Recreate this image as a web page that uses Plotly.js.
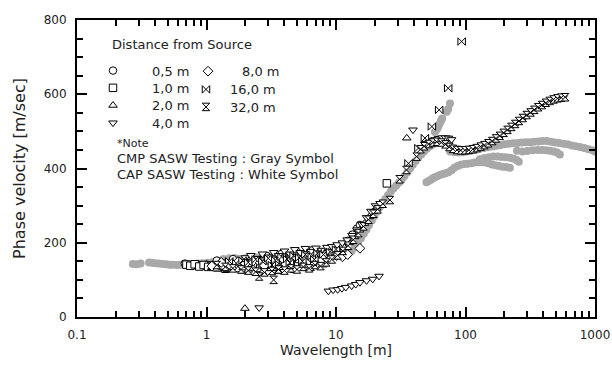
<!DOCTYPE html>
<html>
<head>
<meta charset="utf-8">
<script src="https://cdn.plot.ly/plotly-3.0.1.min.js"></script>
<style>html,body{margin:0;padding:0;background:#fff;}#chart{width:612px;height:365px;}</style>
</head>
<body>
<div id="chart"></div>
<script>
// ---------- CMP SASW (gray symbols) ----------
const grayMainLam = [0.27,0.29,0.31,0.36,0.38,0.40,0.43,0.46,0.49,0.52,0.55,0.59,0.63,0.67,0.72,0.78,0.85,0.93,1.02,1.12,1.22,1.35,1.5,1.65,1.8,2.0,2.2,2.45,2.7,3.0,3.3,3.7,4.1,4.6,5.1,5.7,6.3,7.0,7.8,8.6,9.5,10.4,11.3,12.3,13.2,14.0,14.8,15.6,16.4,17.2,18.0,18.9,19.8,20.8,21.8,22.9,24.0,25.2,26.5,27.8,29.2,30.7,32.2,33.8,35.5,37.3,39.2,41.2,43.3,45.5,47.8,50.2,52.7,55.4,58.2,61.2,64.3,67.6,71,74.6];
const grayMainVel = [143,142,144,147,146,145,144,143,142,141,141,140,141,142,141,142,144,145,146,148,152,156,158,159,157,158,160,160,162,163,163,165,166,166,168,168,169,170,170,169,168,167,166,170,178,188,200,212,224,236,248,260,272,284,296,308,318,328,338,346,354,362,370,380,390,400,410,420,430,438,446,453,459,464,468,471,473,474,474,470];
const grayBlobLam = [58,60,61.5,63,64.5,66,71.6,73.5,75.9];
const grayBlobVel = [498,505,512,520,528,535,553,560,575];
const grayHighLam = [76,82,88,95,102,110,119,129,139,150,162,174,187,201,217,234,252,271,292,315,339,365,393,424,456,491,529,570,614,661,712,766,825,889,957,1000];
const grayHighVel = [446,444,443,444,446,448,450,453,455,457,459,461,463,465,467,468,469,470,471,471,472,473,474,474,472,470,469,467,465,462,460,458,455,452,449,446];
const grayLobeLam = [250,275,300,330,360,390,420,450,480,510,535];
const grayLobeVel = [448,446,447,449,450,450,449,448,446,443,438];
const grayMidLam = [129,140,152,164,177,190,205,220,234,248,258];
const grayMidVel = [425,428,430,432,432,431,430,429,427,423,418];
const grayLowLam = [50,52,54,56,58.5,61,64,67,70,74,78,82,87,92,98,104,111,118,126,134,142,150,160,170,181,193,206,220];
const grayLowVel = [363,366,370,374,377,380,383,385,387,390,395,402,407,410,412,413,414,416,417,417,416,414,411,409,407,405,404,402];

// ---------- CAP SASW (white symbols) ----------
const d05Lam = [0.68,0.73,0.79,0.85,0.92,1.0,1.08,1.17,1.27,1.38,1.5,1.63,1.77,1.92,2.1,2.3,2.5,2.75,3.0,3.3,3.6,4.0,4.4,4.8,5.3,5.8,6.4,7.0,7.7,8.5,9.3,10.2,11.2,12.3,13.4,14.5,15.3,1.2,1.6,2.2,2.9,3.8,5.0,6.6,8.8];
const d05Vel = [144,141,139,142,138,141,137,143,139,145,141,147,143,150,146,152,148,155,151,158,154,161,157,164,160,167,163,170,166,172,176,182,192,205,222,238,248,152,156,160,165,170,175,180,183];
const d10Lam = [0.7,0.75,0.81,0.88,0.95,1.03,1.12,1.22,1.33,1.45,1.58,1.72,1.88,2.05,2.25,2.45,2.7,2.95,3.25,3.55,3.9,4.3,4.7,5.2,5.7,6.3,6.9,7.6,8.4,9.2,10.1,11,24.7,1.4,1.9,2.6,3.4,4.5,6.0,8.0];
const d10Vel = [141,138,142,136,140,135,139,134,140,136,142,138,144,140,146,142,149,145,152,148,155,151,158,154,162,158,165,162,168,172,178,186,360,130,128,132,136,140,146,152];
const d20Lam = [1.98,1.1,1.2,1.32,1.45,1.6,1.75,1.92,2.1,2.3,2.55,2.8,3.1,3.4,3.75,4.1,4.5,5.0,5.5,6.0,6.6,7.3,8.0,8.8,9.7,10.6,11.6,12.7,13.9,15.2,16.6,18.1,19.5,20.6,35.2,2.7,3.6,4.8,6.3,7.9];
const d20Vel = [23,133,129,134,128,133,127,132,126,131,127,134,130,137,133,140,136,143,139,147,143,151,155,160,166,175,187,200,216,234,252,270,285,293,482,120,122,125,130,140];
const d40Lam = [2.55,8.73,9.5,10.3,11.1,11.9,13.2,14.2,15.3,17.2,19.2,21.5,2.0,2.2,2.45,2.7,3.0,3.3,3.6,4.0,4.4,4.8,5.3,5.8,6.4,7.0,7.7,8.5,9.3,10.2,11.2,12.2,13.3,14.5,15.8,17.2,18.6,20.2,21.9,39.3,50,54,58,62,66,70,74,78,84,96,110,126,145,167,191,219,251,287,329,377,432,496,568];
const d40Vel = [25,70,73,74,77,80,84,88,93,98,102,110,160,166,158,170,162,174,166,178,170,182,174,185,177,186,180,188,190,195,200,208,220,235,250,268,285,300,306,504,468,474,478,481,483,483,482,478,452,448,451,456,465,477,491,507,523,539,554,568,579,587,591];
const d80Lam = [15.3,1.3,1.5,1.75,2.0,2.3,2.6,3.0,3.4,3.9,4.4,5.0,5.6,6.3,7.1,8.0,9.0,10.1,11.2,12.3,1.1,2.8,4.1,5.9,7.5];
const d80Vel = [185,147,142,149,144,151,146,153,148,156,150,158,152,160,155,162,158,165,162,168,137,138,142,146,150];
const d160Lam = [93.4,73.5,62.6,55,48.6,43.3,36.3,1.5,1.7,1.9,2.1,2.4,2.7,3.0,3.4,3.8,4.2,4.7,5.2,5.8,6.5,7.2,8.0,9.0,10.0,3.2,4.4,5.5,6.8];
const d160Vel = [742,616,558,513,482,455,414,150,145,152,147,155,150,158,153,162,156,165,160,168,163,172,168,176,182,140,146,150,155];
const d320Lam = [1.2,1.4,1.6,1.85,2.1,2.55,3.3,2.4,2.8,3.2,3.6,4.0,4.5,5.0,5.6,6.2,6.9,7.6,8.4,9.3,10.3,11.3,12.4,13.6,14.9,16.3,17.8,19.4,21.0,23.0,26.1,31,35,42,45,48,52,56,60,65,70,75,80,86,92,99,106,114,122,131,140,150,161,172,184,197,211,226,242,259,277,297,318,340,364,390,418,447,479,513,549,588];
const d320Vel = [140,135,131,128,125,109,100,122,120,124,128,125,131,128,135,131,140,137,147,155,166,178,192,208,226,244,262,278,290,305,315,371,396,432,452,460,466,470,472,470,465,458,453,450,449,449,450,452,455,459,463,468,474,481,488,496,504,512,520,528,536,544,551,558,565,571,577,582,586,589,591,592];

const xTickVals = [0.1, 1, 10, 100, 1000];
const xTickText = ['0.1', '1', '10', '100', '1000'];
const legendNames = ['0,5 m', '1,0 m', '2,0 m', '4,0 m', '8,0 m', '16,0 m', '32,0 m'];

const minorX = [];
[0.1, 1, 10, 100].forEach(d => { for (let k = 2; k <= 9; k++) minorX.push(d * k); });

const GRAY = '#a8a8a8';
function gray(x, y) {
  return {x: x, y: y, type: 'scatter', mode: 'markers', showlegend: false, hoverinfo: 'skip',
    marker: {symbol: 'circle', size: 8, color: GRAY, line: {width: 0}}};
}
function cap(x, y, sym, name, leg) {
  return {x: x, y: y, type: 'scatter', mode: 'markers', name: name, legend: leg,
    marker: {symbol: sym, size: 7.5, color: 'white', line: {color: 'black', width: 1}}};
}
const traces = [
  gray(grayMainLam, grayMainVel), gray(grayBlobLam, grayBlobVel), gray(grayHighLam, grayHighVel),
  gray(grayLobeLam, grayLobeVel), gray(grayMidLam, grayMidVel), gray(grayLowLam, grayLowVel),
  cap(d05Lam, d05Vel, 'circle', legendNames[0], 'legend'),
  cap(d10Lam, d10Vel, 'square', legendNames[1], 'legend2'),
  cap(d20Lam, d20Vel, 'triangle-up', legendNames[2], 'legend3'),
  cap(d40Lam, d40Vel, 'triangle-down', legendNames[3], 'legend4'),
  cap(d80Lam, d80Vel, 'diamond', legendNames[4], 'legend5'),
  cap(d160Lam, d160Vel, 'bowtie', legendNames[5], 'legend6'),
  cap(d320Lam, d320Vel, 'hourglass', legendNames[6], 'legend7')
];

const FONT = 'DejaVu Sans, Verdana, sans-serif';
const TXT = '#222';
const axisCommon = {
  showline: true, linecolor: 'black', linewidth: 2, mirror: 'ticks',
  ticks: 'inside', ticklen: 10, tickwidth: 2, tickcolor: 'black',
  showgrid: false, zeroline: false,
  tickfont: {family: FONT, size: 12, color: TXT}
};
function leg(x, y, w) {
  return {bgcolor: 'rgba(255,255,255,0)', borderwidth: 0, xanchor: 'left', yanchor: 'top',
    font: {family: FONT, size: 13, color: TXT}, x: x, y: y, itemwidth: w};
}
const layout = {
  width: 612, height: 365,
  margin: {l: 77, r: 17, t: 20, b: 48},
  paper_bgcolor: 'white', plot_bgcolor: 'white',
  xaxis: Object.assign({}, axisCommon, {
    type: 'log', range: [-1, 3], tickmode: 'array', tickvals: xTickVals, ticktext: xTickText,
    ticklabelstandoff: 6,
    minor: {ticks: 'inside', ticklen: 6, tickwidth: 2, tickcolor: 'black', tickmode: 'array', tickvals: minorX, showgrid: false},
    title: {text: 'Wavelength [m]', font: {family: FONT, size: 14, color: TXT}, standoff: 4}
  }),
  yaxis: Object.assign({}, axisCommon, {
    range: [0, 800], dtick: 200, tick0: 0, ticklabelstandoff: 6,
    minor: {ticks: 'inside', ticklen: 6, tickwidth: 2, tickcolor: 'black', dtick: 50, showgrid: false},
    title: {text: 'Phase velocity [m/sec]', font: {family: FONT, size: 16, color: TXT}, standoff: 14}
  }),
  legend:  leg(-0.0058, 0.880, 68),
  legend2: leg(-0.0058, 0.822, 68),
  legend3: leg(-0.0058, 0.763, 68),
  legend4: leg(-0.0058, 0.704, 68),
  legend5: leg(0.1873, 0.878, 58),
  legend6: leg(0.2027, 0.8166, 38),
  legend7: leg(0.2027, 0.7577, 38),
  annotations: [
    {text: 'Distance from Source', xref: 'paper', yref: 'paper', x: 0.063, y: 0.916, xanchor: 'left', yanchor: 'middle', showarrow: false, font: {family: FONT, size: 13, color: TXT}},
    {text: '*Note', xref: 'paper', yref: 'paper', x: 0.074, y: 0.585, xanchor: 'left', yanchor: 'middle', showarrow: false, font: {family: FONT, size: 11, color: TXT}},
    {text: 'CMP SASW Testing : Gray Symbol', xref: 'paper', yref: 'paper', x: 0.074, y: 0.535, xanchor: 'left', yanchor: 'middle', showarrow: false, font: {family: FONT, size: 13, color: TXT}},
    {text: 'CAP SASW Testing : White Symbol', xref: 'paper', yref: 'paper', x: 0.074, y: 0.481, xanchor: 'left', yanchor: 'middle', showarrow: false, font: {family: FONT, size: 13, color: TXT}}
  ]
};
Plotly.newPlot('chart', traces, layout, {displayModeBar: false, staticPlot: true});
</script>
</body>
</html>
